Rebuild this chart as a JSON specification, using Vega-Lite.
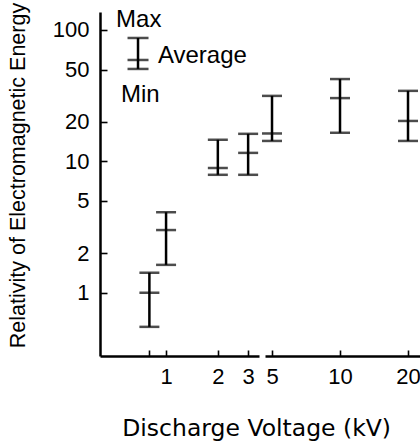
{
  "$schema": "https://vega.github.io/schema/vega-lite/v6.json",
  "padding": {"left": 6, "top": 2, "right": 0, "bottom": 0},
  "background": "white",
  "spacing": 3,
  "title": {
    "text": "Discharge Voltage (kV)",
    "orient": "bottom",
    "anchor": "middle",
    "frame": "bounds",
    "dx": 43,
    "offset": 30,
    "font": "DejaVu Sans",
    "fontSize": 23.5,
    "fontWeight": "normal",
    "color": "black"
  },
  "config": {
    "view": {"stroke": null},
    "axis": {
      "grid": false,
      "domainColor": "black",
      "domainWidth": 2.5,
      "tickColor": "black",
      "tickWidth": 1.6,
      "labelColor": "black",
      "titleColor": "black",
      "labelFont": "Liberation Sans",
      "labelFontSize": 22,
      "titleFontWeight": "normal"
    }
  },
  "datasets": {
    "points": [
      {"kV": 0.8, "min": 0.55, "avg": 1.0, "max": 1.42},
      {"kV": 1, "min": 1.63, "avg": 3.0, "max": 4.1},
      {"kV": 2, "min": 7.9, "avg": 8.9, "max": 14.6},
      {"kV": 3, "min": 7.9, "avg": 11.6, "max": 16.2},
      {"kV": 5, "min": 14.3, "avg": 16.3, "max": 31.5},
      {"kV": 10, "min": 16.5, "avg": 30.3, "max": 42.3},
      {"kV": 20, "min": 14.3, "avg": 20.3, "max": 34.4}
    ]
  },
  "hconcat": [
    {
      "width": 159,
      "height": 344,
      "layer": [
        {
          "data": {"name": "points"},
          "transform": [{"filter": "datum.kV < 4"}],
          "encoding": {
            "x": {
              "field": "kV",
              "type": "quantitative",
              "scale": {"type": "log", "domain": [0.413, 3.47], "nice": false},
              "axis": {
                "values": [0.8, 1, 2, 3],
                "labelExpr": "datum.value < 0.9 ? '' : datum.label",
                "tickSize": -6,
                "labelPadding": 16,
                "title": null
              }
            }
          },
          "layer": [
            {
              "mark": {"type": "rule", "strokeWidth": 2.5, "color": "black"},
              "encoding": {
                "y": {
                  "field": "min",
                  "type": "quantitative",
                  "scale": {"type": "log", "domain": [0.33, 137], "nice": false},
                  "axis": {
                    "values": [1, 2, 5, 10, 20, 50, 100],
                    "format": "d",
                    "tickSize": -7,
                    "labelPadding": 18,
                    "title": "Relativity of Electromagnetic Energy",
                    "titleX": -82,
                    "titleY": 163,
                    "titleAngle": -90,
                    "titleAlign": "center",
                    "titleBaseline": "middle",
                    "titleFont": "Liberation Sans",
                    "titleFontSize": 21.5
                  }
                },
                "y2": {"field": "max"}
              }
            },
            {
              "mark": {"type": "tick", "orient": "horizontal", "size": 20, "thickness": 2.5, "color": "black"},
              "encoding": {"y": {"field": "max", "type": "quantitative", "scale": {"type": "log", "domain": [0.33, 137], "nice": false}}}
            },
            {
              "mark": {"type": "tick", "orient": "horizontal", "size": 20, "thickness": 2.5, "color": "black"},
              "encoding": {"y": {"field": "min", "type": "quantitative", "scale": {"type": "log", "domain": [0.33, 137], "nice": false}}}
            },
            {
              "mark": {"type": "tick", "orient": "horizontal", "size": 20, "thickness": 2.5, "color": "black"},
              "encoding": {"y": {"field": "avg", "type": "quantitative", "scale": {"type": "log", "domain": [0.33, 137], "nice": false}}}
            }
          ]
        },
        {
          "data": {"values": [{"key": "legend"}]},
          "layer": [
            {
              "mark": {"type": "rule", "strokeWidth": 2.5, "color": "black"},
              "encoding": {
                "x": {"datum": 0.687, "type": "quantitative", "scale": {"type": "log", "domain": [0.413, 3.47], "nice": false}},
                "y": {"datum": 50.5, "type": "quantitative", "scale": {"type": "log", "domain": [0.33, 137], "nice": false}},
                "y2": {"datum": 86.9}
              }
            },
            {
              "mark": {"type": "tick", "orient": "horizontal", "size": 21, "thickness": 2.5, "color": "black"},
              "encoding": {
                "x": {"datum": 0.687, "type": "quantitative", "scale": {"type": "log", "domain": [0.413, 3.47], "nice": false}},
                "y": {"datum": 86.9, "type": "quantitative", "scale": {"type": "log", "domain": [0.33, 137], "nice": false}}
              }
            },
            {
              "mark": {"type": "tick", "orient": "horizontal", "size": 21, "thickness": 2.5, "color": "black"},
              "encoding": {
                "x": {"datum": 0.687, "type": "quantitative", "scale": {"type": "log", "domain": [0.413, 3.47], "nice": false}},
                "y": {"datum": 59.1, "type": "quantitative", "scale": {"type": "log", "domain": [0.33, 137], "nice": false}}
              }
            },
            {
              "mark": {"type": "tick", "orient": "horizontal", "size": 21, "thickness": 2.5, "color": "black"},
              "encoding": {
                "x": {"datum": 0.687, "type": "quantitative", "scale": {"type": "log", "domain": [0.413, 3.47], "nice": false}},
                "y": {"datum": 50.5, "type": "quantitative", "scale": {"type": "log", "domain": [0.33, 137], "nice": false}}
              }
            },
            {
              "mark": {"type": "text", "text": "Max", "align": "left", "baseline": "alphabetic", "font": "Liberation Sans", "fontSize": 24, "color": "black"},
              "encoding": {
                "x": {"datum": 0.512, "type": "quantitative", "scale": {"type": "log", "domain": [0.413, 3.47], "nice": false}},
                "y": {"datum": 105.4, "type": "quantitative", "scale": {"type": "log", "domain": [0.33, 137], "nice": false}}
              }
            },
            {
              "mark": {"type": "text", "text": "Average", "align": "left", "baseline": "alphabetic", "font": "Liberation Sans", "fontSize": 24, "color": "black"},
              "encoding": {
                "x": {"datum": 0.897, "type": "quantitative", "scale": {"type": "log", "domain": [0.413, 3.47], "nice": false}},
                "y": {"datum": 56.1, "type": "quantitative", "scale": {"type": "log", "domain": [0.33, 137], "nice": false}}
              }
            },
            {
              "mark": {"type": "text", "text": "Min", "align": "left", "baseline": "alphabetic", "font": "Liberation Sans", "fontSize": 24, "color": "black"},
              "encoding": {
                "x": {"datum": 0.547, "type": "quantitative", "scale": {"type": "log", "domain": [0.413, 3.47], "nice": false}},
                "y": {"datum": 28.3, "type": "quantitative", "scale": {"type": "log", "domain": [0.33, 137], "nice": false}}
              }
            }
          ]
        }
      ]
    },
    {
      "width": 155,
      "height": 344,
      "data": {"name": "points"},
      "transform": [{"filter": "datum.kV > 4"}],
      "encoding": {
        "x": {
          "field": "kV",
          "type": "quantitative",
          "scale": {"type": "log", "domain": [4.655, 22.6], "nice": false},
          "axis": {
            "values": [5, 10, 20],
            "format": "d",
            "tickSize": -6,
            "labelPadding": 16,
            "title": null
          }
        }
      },
      "layer": [
        {
          "mark": {"type": "rule", "strokeWidth": 2.5, "color": "black"},
          "encoding": {
            "y": {"field": "min", "type": "quantitative", "scale": {"type": "log", "domain": [0.33, 137], "nice": false}, "axis": null},
            "y2": {"field": "max"}
          }
        },
        {
          "mark": {"type": "tick", "orient": "horizontal", "size": 20, "thickness": 2.5, "color": "black"},
          "encoding": {"y": {"field": "max", "type": "quantitative", "scale": {"type": "log", "domain": [0.33, 137], "nice": false}}}
        },
        {
          "mark": {"type": "tick", "orient": "horizontal", "size": 20, "thickness": 2.5, "color": "black"},
          "encoding": {"y": {"field": "min", "type": "quantitative", "scale": {"type": "log", "domain": [0.33, 137], "nice": false}}}
        },
        {
          "mark": {"type": "tick", "orient": "horizontal", "size": 20, "thickness": 2.5, "color": "black"},
          "encoding": {"y": {"field": "avg", "type": "quantitative", "scale": {"type": "log", "domain": [0.33, 137], "nice": false}}}
        }
      ]
    }
  ]
}
